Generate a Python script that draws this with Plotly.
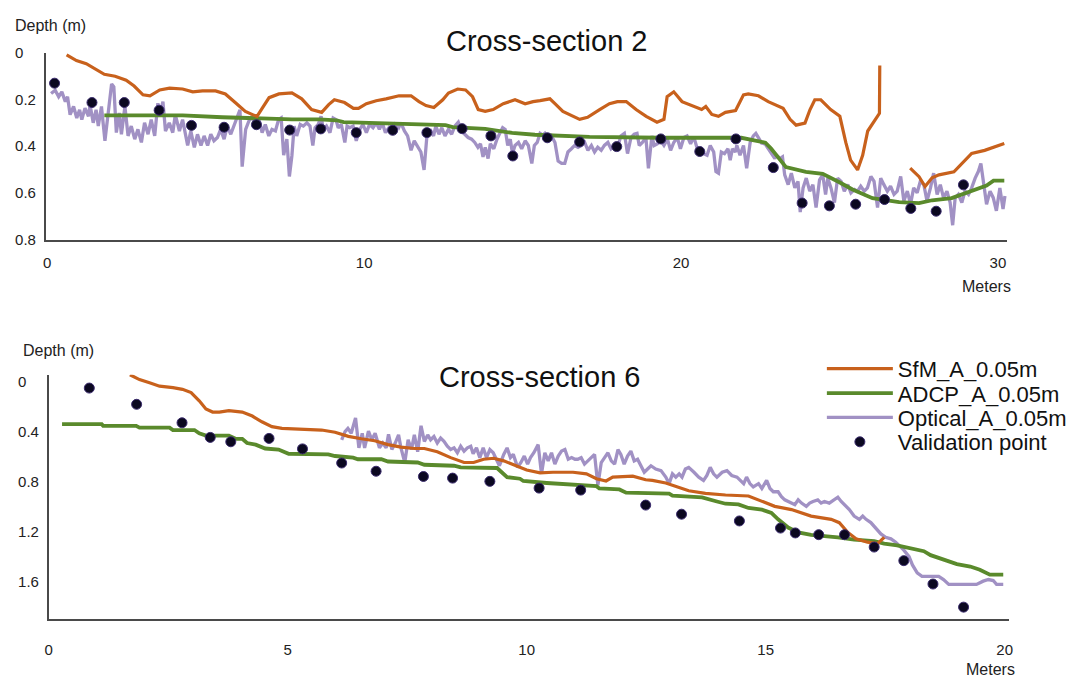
import plotly.graph_objects as go

# ---------------- Cross-section 2 (top) ----------------
cs2_sfm_x = [0.61, 0.92, 1.23, 1.55, 1.80, 2.14, 2.49, 2.74, 3.02, 3.24, 3.55, 3.86, 4.27, 4.59, 4.90,
             5.31, 5.62, 5.93, 6.25, 6.53, 6.62, 6.78, 7.00, 7.31, 7.72, 8.03, 8.34, 8.66, 8.88, 9.06,
             9.38, 9.66, 9.82, 10.07, 10.38, 10.69, 11.10, 11.48, 11.73, 11.95, 12.20, 12.48, 12.66,
             12.95, 13.20, 13.42, 13.60, 13.82, 14.07, 14.39, 14.76, 15.08, 15.33, 15.55, 15.86, 16.02,
             16.27, 16.80, 17.05, 17.43, 17.74, 17.99, 18.27, 18.58, 18.90, 19.24, 19.46, 19.56, 19.77,
             20.03, 20.34, 20.65, 20.78, 20.97, 21.18, 21.40, 21.72, 21.97, 22.12, 22.44, 22.75, 23.06,
             23.22, 23.44, 23.63, 23.91, 24.07, 24.22, 24.41, 24.72, 25.01, 25.20, 25.35, 25.57, 25.73,
             25.89, 26.10, 26.26, 26.27,
             None,
             27.23, 27.51, 27.70, 27.92, 28.14, 28.61, 29.17, 29.58, 30.20]
cs2_sfm_y = [0.008, 0.033, 0.046, 0.071, 0.092, 0.100, 0.117, 0.142, 0.180, 0.184, 0.159, 0.151, 0.155,
             0.167, 0.163, 0.163, 0.176, 0.213, 0.251, 0.268, 0.272, 0.238, 0.192, 0.176, 0.172, 0.197,
             0.243, 0.255, 0.222, 0.201, 0.213, 0.238, 0.238, 0.218, 0.205, 0.197, 0.184, 0.184, 0.209,
             0.226, 0.234, 0.201, 0.172, 0.155, 0.159, 0.188, 0.243, 0.251, 0.243, 0.218, 0.201, 0.218,
             0.209, 0.205, 0.197, 0.218, 0.251, 0.285, 0.276, 0.243, 0.218, 0.209, 0.209, 0.243, 0.272,
             0.297, 0.285, 0.188, 0.167, 0.209, 0.226, 0.243, 0.230, 0.264, 0.272, 0.255, 0.247, 0.180,
             0.176, 0.184, 0.209, 0.230, 0.238, 0.285, 0.310, 0.301, 0.243, 0.201, 0.201, 0.243, 0.272,
             0.385, 0.460, 0.502, 0.439, 0.335, 0.293, 0.259, 0.054,
             None,
             0.494, 0.531, 0.573, 0.536, 0.523, 0.510, 0.431, 0.418, 0.389]

cs2_adcp_x = [1.80, 4.27, 5.52, 6.37, 7.72, 8.59, 9.13, 9.35, 10.47, 11.54, 12.57, 12.79, 13.82, 14.67,
              15.39, 17.11, 18.68, 19.40, 21.90, 22.22, 22.66, 22.84, 23.06, 23.31, 23.94, 24.47, 25.01,
              25.41, 26.04, 26.88, 27.51, 27.92, 28.54, 29.17, 29.64, 29.86, 30.20]
cs2_adcp_y = [0.268, 0.268, 0.276, 0.280, 0.285, 0.285, 0.289, 0.297, 0.301, 0.305, 0.310, 0.318, 0.326,
              0.343, 0.351, 0.360, 0.364, 0.364, 0.364, 0.372, 0.385, 0.410, 0.448, 0.490, 0.510, 0.519,
              0.556, 0.586, 0.623, 0.640, 0.644, 0.632, 0.623, 0.594, 0.569, 0.548, 0.548]

cs2_opt_x = [0.12, 0.25, 0.36, 0.46, 0.57, 0.64, 0.72, 0.83, 0.93, 1.02, 1.09, 1.19, 1.30, 1.35, 1.45,
             1.54, 1.61, 1.71, 1.82, 1.92, 2.03, 2.10, 2.18, 2.27, 2.34, 2.45, 2.55, 2.65, 2.76, 2.86,
             2.97, 3.07, 3.18, 3.28, 3.39, 3.49, 3.56, 3.65, 3.73, 3.85, 3.96, 4.04, 4.17, 4.27, 4.43,
             4.53, 4.64, 4.74, 4.85, 4.95, 5.06, 5.16, 5.26, 5.37, 5.47, 5.58, 5.68, 5.79, 5.89, 5.99,
             6.08, 6.15, 6.26, 6.36, 6.46, 6.57, 6.67, 6.78, 6.88, 6.99, 7.09, 7.20, 7.30, 7.38, 7.46,
             7.56, 7.64, 7.72, 7.79, 7.87, 7.98, 8.08, 8.19, 8.29, 8.38, 8.45, 8.55, 8.64, 8.71, 8.81,
             8.92, 9.02, 9.11, 9.18, 9.28, 9.39, 9.46, 9.54, 9.65, 9.75, 9.86, 9.96, 10.07, 10.17, 10.28,
             10.38, 10.48, 10.57, 10.67, 10.78, 10.88, 10.98, 11.09, 11.16, 11.27, 11.37, 11.48, 11.58,
             11.68, 11.79, 11.89, 11.98, 12.08, 12.19, 12.26, 12.36, 12.45, 12.55, 12.66, 12.76, 12.86,
             12.97, 13.07, 13.18, 13.28, 13.39, 13.49, 13.59, 13.67, 13.75, 13.82, 13.91, 13.98, 14.09,
             14.19, 14.29, 14.37, 14.45, 14.53, 14.61, 14.68, 14.76, 14.87, 14.97, 15.08, 15.18, 15.29,
             15.37, 15.46, 15.55, 15.63, 15.70, 15.81, 15.91, 16.02, 16.12, 16.23, 16.33, 16.43, 16.54,
             16.64, 16.75, 16.85, 16.96, 17.06, 17.17, 17.27, 17.37, 17.48, 17.58, 17.69, 17.79, 17.90,
             18.00, 18.10, 18.21, 18.31, 18.42, 18.52, 18.61, 18.68, 18.78, 18.89, 18.97, 19.08, 19.15,
             19.25, 19.36, 19.46, 19.57, 19.67, 19.77, 19.88, 19.98, 20.09, 20.19, 20.30, 20.40, 20.51,
             20.61, 20.71, 20.82, 20.92, 21.03, 21.10, 21.18, 21.27, 21.37, 21.48, 21.55, 21.62, 21.71,
             21.76, 21.86, 21.97, 22.07, 22.18, 22.28, 22.36, 22.44, 22.54, 22.65, 22.75, 22.85, 22.96,
             23.01, 23.12, 23.20, 23.27, 23.38, 23.48, 23.59, 23.69, 23.76, 23.85, 23.95, 24.06, 24.16,
             24.26, 24.37, 24.47, 24.56, 24.63, 24.73, 24.84, 24.94, 25.05, 25.15, 25.26, 25.36, 25.47,
             25.57, 25.67, 25.78, 25.88, 25.99, 26.09, 26.20, 26.30, 26.40, 26.51, 26.61, 26.72, 26.82,
             26.93, 27.03, 27.14, 27.24, 27.34, 27.45, 27.55, 27.66, 27.76, 27.87, 27.97, 28.08, 28.18,
             28.28, 28.39, 28.49, 28.57, 28.65, 28.75, 28.86, 28.96, 29.07, 29.17, 29.28, 29.38, 29.46,
             29.55, 29.64, 29.75, 29.85, 29.95, 30.06, 30.16, 30.22]
cs2_opt_y = [0.174, 0.160, 0.188, 0.167, 0.209, 0.188, 0.265, 0.230, 0.279, 0.244, 0.286, 0.237, 0.272,
             0.223, 0.300, 0.244, 0.314, 0.230, 0.377, 0.258, 0.133, 0.146, 0.342, 0.258, 0.349, 0.230,
             0.356, 0.314, 0.370, 0.328, 0.384, 0.300, 0.349, 0.286, 0.356, 0.216, 0.258, 0.209, 0.335,
             0.300, 0.342, 0.265, 0.335, 0.286, 0.397, 0.335, 0.405, 0.349, 0.397, 0.356, 0.397, 0.349,
             0.377, 0.363, 0.328, 0.370, 0.314, 0.349, 0.314, 0.279, 0.244, 0.488, 0.328, 0.293, 0.272,
             0.314, 0.279, 0.342, 0.307, 0.356, 0.328, 0.335, 0.286, 0.279, 0.439, 0.370, 0.530, 0.440,
             0.314, 0.356, 0.307, 0.314, 0.300, 0.314, 0.397, 0.321, 0.307, 0.272, 0.328, 0.314, 0.342,
             0.279, 0.286, 0.321, 0.307, 0.384, 0.314, 0.321, 0.314, 0.377, 0.328, 0.307, 0.342, 0.307,
             0.321, 0.300, 0.328, 0.300, 0.342, 0.321, 0.349, 0.307, 0.321, 0.300, 0.335, 0.356, 0.418,
             0.377, 0.397, 0.425, 0.502, 0.356, 0.328, 0.356, 0.314, 0.349, 0.321, 0.356, 0.328, 0.349,
             0.314, 0.297, 0.335, 0.349, 0.363, 0.370, 0.384, 0.405, 0.390, 0.446, 0.405, 0.453, 0.390,
             0.411, 0.370, 0.342, 0.321, 0.328, 0.397, 0.370, 0.432, 0.397, 0.384, 0.411, 0.377, 0.397,
             0.474, 0.397, 0.384, 0.345, 0.353, 0.345, 0.370, 0.356, 0.384, 0.464, 0.474, 0.474, 0.425,
             0.411, 0.397, 0.405, 0.397, 0.384, 0.418, 0.397, 0.425, 0.405, 0.418, 0.397, 0.384, 0.411,
             0.397, 0.405, 0.356, 0.345, 0.432, 0.363, 0.349, 0.345, 0.397, 0.384, 0.363, 0.495, 0.356,
             0.397, 0.390, 0.377, 0.397, 0.370, 0.418, 0.384, 0.363, 0.411, 0.363, 0.356, 0.390, 0.359,
             0.411, 0.418, 0.432, 0.439, 0.397, 0.425, 0.509, 0.516, 0.425, 0.432, 0.411, 0.460, 0.411,
             0.425, 0.397, 0.439, 0.397, 0.495, 0.384, 0.356, 0.345, 0.363, 0.387, 0.390, 0.411, 0.432,
             0.453, 0.439, 0.453, 0.446, 0.523, 0.565, 0.516, 0.579, 0.551, 0.683, 0.579, 0.537, 0.593,
             0.565, 0.663, 0.544, 0.523, 0.607, 0.537, 0.579, 0.642, 0.537, 0.551, 0.593, 0.565, 0.600,
             0.586, 0.593, 0.572, 0.593, 0.579, 0.530, 0.551, 0.663, 0.537, 0.565, 0.593, 0.572, 0.607,
             0.593, 0.530, 0.635, 0.593, 0.649, 0.579, 0.600, 0.551, 0.565, 0.635, 0.579, 0.516, 0.607,
             0.565, 0.621, 0.593, 0.642, 0.739, 0.621, 0.607, 0.642, 0.593, 0.607, 0.579, 0.537, 0.509,
             0.474, 0.565, 0.649, 0.593, 0.621, 0.677, 0.579, 0.670, 0.614]

cs2_val_x = [0.23, 1.41, 2.43, 3.53, 4.55, 5.58, 6.60, 7.65, 8.63, 9.75, 10.90, 11.98, 13.09, 14.00,
             14.69, 15.78, 16.80, 17.97, 19.36, 20.59, 21.73, 22.91, 23.82, 24.68, 25.51, 26.42, 27.25,
             28.05, 28.91]
cs2_val_y = [0.130, 0.213, 0.213, 0.246, 0.311, 0.319, 0.308, 0.331, 0.326, 0.342, 0.332, 0.342, 0.325,
             0.356, 0.442, 0.364, 0.382, 0.402, 0.369, 0.423, 0.369, 0.492, 0.644, 0.656, 0.649, 0.629,
             0.667, 0.679, 0.566]

# ---------------- Cross-section 6 (bottom) ----------------
cs6_sfm_x = [1.70, 1.90, 2.11, 2.32, 2.60, 2.80, 2.98, 3.15, 3.29, 3.43, 3.57, 3.77, 4.05, 4.26, 4.46,
             4.67, 4.88, 5.16, 5.43, 5.71, 5.99, 6.27, 6.54, 6.82, 7.10, 7.37, 7.65, 7.86, 8.13, 8.41,
             8.69, 8.89, 9.10, 9.31, 9.52, 9.72, 10.00, 10.28, 10.55, 10.97, 11.25, 11.46, 11.66, 11.80,
             12.22, 12.49, 12.63, 12.91, 13.12, 13.39, 13.74, 14.16, 14.64, 14.92, 15.19, 15.54, 15.95,
             16.37, 16.54, 16.72, 16.89, 17.13, 17.34, 17.48]
cs6_sfm_y = [-0.055, -0.016, 0.010, 0.037, 0.049, 0.062, 0.088, 0.154, 0.219, 0.244, 0.244, 0.232, 0.244,
             0.276, 0.322, 0.361, 0.375, 0.380, 0.383, 0.388, 0.406, 0.439, 0.458, 0.474, 0.505, 0.525,
             0.536, 0.536, 0.562, 0.609, 0.648, 0.648, 0.622, 0.614, 0.635, 0.666, 0.708, 0.731, 0.726,
             0.726, 0.739, 0.778, 0.796, 0.765, 0.757, 0.786, 0.791, 0.812, 0.838, 0.874, 0.895, 0.908,
             0.916, 0.960, 0.999, 1.025, 1.077, 1.103, 1.130, 1.208, 1.259, 1.286, 1.298, 1.247]

cs6_adcp_x = [0.28, 1.11, 1.14, 1.83, 1.90, 2.53, 2.60, 3.05, 3.15, 3.29, 3.77, 3.91, 4.05, 4.15, 4.33,
              4.53, 4.81, 5.02, 5.85, 5.99, 6.37, 6.47, 6.96, 7.10, 7.72, 7.86, 8.48, 8.62, 9.38, 9.59,
              9.86, 9.93, 10.42, 10.76, 11.46, 11.52, 11.94, 12.08, 12.56, 12.98, 13.05, 13.67, 13.98,
              14.16, 14.43, 14.64, 14.92, 15.12, 15.26, 15.47, 15.68, 15.95, 16.51, 16.85, 17.27, 17.48,
              17.75, 18.03, 18.31, 18.45, 18.72, 19.00, 19.28, 19.48, 19.69, 19.97]
cs6_adcp_y = [0.341, 0.341, 0.354, 0.354, 0.369, 0.369, 0.388, 0.388, 0.414, 0.432, 0.432, 0.458, 0.458,
              0.492, 0.505, 0.536, 0.544, 0.578, 0.583, 0.596, 0.609, 0.622, 0.622, 0.640, 0.648, 0.666,
              0.674, 0.687, 0.692, 0.765, 0.778, 0.796, 0.812, 0.822, 0.838, 0.856, 0.864, 0.890, 0.897,
              0.897, 0.913, 0.927, 0.960, 0.978, 0.984, 1.012, 1.025, 1.052, 1.103, 1.169, 1.208, 1.228,
              1.247, 1.265, 1.278, 1.298, 1.311, 1.337, 1.358, 1.390, 1.429, 1.462, 1.481, 1.507, 1.546,
              1.546]

cs6_opt_x = [6.13, 6.20, 6.26, 6.33, 6.42, 6.49, 6.56, 6.61, 6.69, 6.76, 6.83, 6.92, 6.99, 7.06, 7.11,
             7.18, 7.25, 7.32, 7.37, 7.45, 7.52, 7.59, 7.65, 7.72, 7.79, 7.86, 7.93, 7.99, 8.06, 8.13,
             8.20, 8.27, 8.34, 8.41, 8.48, 8.55, 8.62, 8.69, 8.76, 8.83, 8.88, 8.95, 9.02, 9.09, 9.16,
             9.23, 9.30, 9.37, 9.43, 9.52, 9.59, 9.66, 9.72, 9.81, 9.88, 9.95, 10.02, 10.08, 10.15,
             10.24, 10.31, 10.38, 10.45, 10.52, 10.59, 10.66, 10.73, 10.80, 10.87, 10.94, 11.01, 11.07,
             11.14, 11.21, 11.28, 11.35, 11.42, 11.49, 11.56, 11.63, 11.70, 11.77, 11.84, 11.91, 11.97,
             12.04, 12.11, 12.18, 12.25, 12.32, 12.39, 12.46, 12.53, 12.60, 12.70, 12.81, 12.91, 12.98,
             13.05, 13.12, 13.19, 13.25, 13.32, 13.39, 13.50, 13.60, 13.70, 13.77, 13.84, 13.91, 13.98,
             14.09, 14.19, 14.29, 14.40, 14.47, 14.54, 14.60, 14.67, 14.74, 14.85, 14.92, 14.99, 15.02,
             15.09, 15.16, 15.26, 15.33, 15.40, 15.47, 15.54, 15.61, 15.68, 15.75, 15.85, 15.92, 15.99,
             16.09, 16.16, 16.23, 16.33, 16.44, 16.51, 16.58, 16.65, 16.75, 16.85, 16.96, 17.03, 17.10,
             17.20, 17.30, 17.41, 17.51, 17.62, 17.72, 17.79, 17.89, 18.00, 18.07, 18.17, 18.27, 18.38,
             18.52, 18.62, 18.72, 18.83, 18.93, 19.14, 19.41, 19.55, 19.66, 19.76, 19.83, 19.97]
cs6_opt_y = [0.466, 0.401, 0.375, 0.414, 0.291, 0.531, 0.414, 0.531, 0.396, 0.466, 0.414, 0.531, 0.492,
             0.531, 0.422, 0.544, 0.492, 0.427, 0.531, 0.648, 0.466, 0.544, 0.427, 0.562, 0.354, 0.479,
             0.427, 0.466, 0.440, 0.492, 0.453, 0.479, 0.518, 0.544, 0.531, 0.570, 0.518, 0.557, 0.531,
             0.518, 0.578, 0.531, 0.609, 0.531, 0.609, 0.544, 0.570, 0.630, 0.674, 0.583, 0.531, 0.609,
             0.583, 0.687, 0.648, 0.596, 0.661, 0.609, 0.570, 0.505, 0.739, 0.570, 0.635, 0.570, 0.661,
             0.596, 0.557, 0.544, 0.622, 0.609, 0.622, 0.622, 0.609, 0.661, 0.635, 0.609, 0.583, 0.830,
             0.648, 0.609, 0.570, 0.635, 0.661, 0.544, 0.583, 0.661, 0.596, 0.557, 0.635, 0.622, 0.674,
             0.726, 0.700, 0.674, 0.700, 0.713, 0.765, 0.817, 0.739, 0.765, 0.739, 0.765, 0.700, 0.687,
             0.726, 0.765, 0.791, 0.752, 0.687, 0.739, 0.765, 0.726, 0.713, 0.752, 0.765, 0.791, 0.817,
             0.765, 0.817, 0.843, 0.817, 0.856, 0.817, 0.791, 0.856, 0.882, 0.882, 0.921, 0.947, 0.960,
             0.973, 0.986, 0.947, 0.973, 0.999, 0.973, 0.960, 0.947, 0.973, 0.960, 0.973, 0.942, 0.926,
             0.960, 0.986, 1.025, 1.077, 1.103, 1.077, 1.103, 1.129, 1.168, 1.220, 1.247, 1.259, 1.286,
             1.311, 1.350, 1.402, 1.468, 1.532, 1.559, 1.559, 1.559, 1.559, 1.585, 1.624, 1.624, 1.624,
             1.624, 1.598, 1.585, 1.593, 1.624, 1.624]

cs6_val_x = [0.85, 1.84, 2.79, 3.38, 3.81, 4.61, 5.31, 6.13, 6.85, 7.84, 8.45, 9.23, 10.26, 11.13, 12.49,
             13.24, 14.45, 15.31, 15.62, 16.11, 16.65, 17.27, 17.89, 18.50, 19.14]
cs6_val_y = [0.052, 0.182, 0.330, 0.447, 0.482, 0.455, 0.539, 0.652, 0.718, 0.760, 0.773, 0.799, 0.853,
             0.869, 0.989, 1.062, 1.116, 1.173, 1.212, 1.226, 1.226, 1.325, 1.434, 1.621, 1.806]

cs2_xticks = [0, 10, 20, 30]
cs2_yticks = [0, 0.2, 0.4, 0.6, 0.8]
cs6_xticks = [0, 5, 10, 15, 20]
cs6_yticks = [0, 0.4, 0.8, 1.2, 1.6]

series_names = ["SfM_A_0.05m", "ADCP_A_0.05m", "Optical_A_0.05m", "Validation point"]

C_SFM = "#C8611C"
C_ADCP = "#5A8A2C"
C_OPT = "#A191C4"
C_VAL = "#0B0820"
FONT = "Liberation Sans, Arial, sans-serif"
W, H = 1075, 686

fig = go.Figure()

# one legend per entry so the rows can be spaced like the original
LEG = ["legend", "legend2", "legend3", "legend4"]


def add_section(sfm, adcp, opt, val, xa, ya, legend):
    fig.add_trace(go.Scatter(x=opt[0], y=opt[1], mode="lines", name=series_names[2],
                             line=dict(color=C_OPT, width=3.3), xaxis=xa, yaxis=ya,
                             showlegend=legend, legend=LEG[2]))
    fig.add_trace(go.Scatter(x=adcp[0], y=adcp[1], mode="lines", name=series_names[1],
                             line=dict(color=C_ADCP, width=3.8), xaxis=xa, yaxis=ya,
                             showlegend=legend, legend=LEG[1]))
    fig.add_trace(go.Scatter(x=sfm[0], y=sfm[1], mode="lines", name=series_names[0],
                             line=dict(color=C_SFM, width=3.2), xaxis=xa, yaxis=ya,
                             connectgaps=False, showlegend=legend, legend=LEG[0]))
    fig.add_trace(go.Scatter(x=val[0], y=val[1], mode="markers", name=series_names[3],
                             marker=dict(color=C_VAL, size=10, line=dict(color="#3B2C6E", width=1)),
                             xaxis=xa, yaxis=ya, showlegend=legend, legend=LEG[3]))


add_section((cs2_sfm_x, cs2_sfm_y), (cs2_adcp_x, cs2_adcp_y), (cs2_opt_x, cs2_opt_y),
            (cs2_val_x, cs2_val_y), "x", "y", False)
add_section((cs6_sfm_x, cs6_sfm_y), (cs6_adcp_x, cs6_adcp_y), (cs6_opt_x, cs6_opt_y),
            (cs6_val_x, cs6_val_y), "x2", "y2", True)


def ylab(v):
    s = f"{v:g}"
    return s + "\u00a0\u00a0\u00a0" if s == "0" else s


axis_common = dict(showline=True, linecolor="#4a4a4a", linewidth=1.5, showgrid=False,
                   zeroline=False, ticks="outside", tickcolor="rgba(0,0,0,0)",
                   tickfont=dict(family=FONT, size=15, color="#222222"))

legend_rows = [369, 394, 419, 444]
legend_layout = {}
for name, row in zip(LEG, legend_rows):
    legend_layout[name] = dict(x=824 / W, y=(H - row) / H, xanchor="left", yanchor="middle",
                               font=dict(family=FONT, size=22, color="#111111"),
                               bgcolor="rgba(0,0,0,0)", itemwidth=66)

fig.update_layout(
    width=W, height=H,
    margin=dict(l=0, r=0, t=0, b=0),
    paper_bgcolor="white", plot_bgcolor="white",
    font=dict(family=FONT, color="#111111"),
    xaxis=dict(domain=[42 / W, 1011 / W], range=[-0.05, 30.30], tickvals=cs2_xticks,
               anchor="y", ticklen=8, **axis_common),
    yaxis=dict(domain=[(H - 237) / H, (H - 45) / H], range=[0.803, 0], tickvals=cs2_yticks,
               ticktext=[ylab(v) for v in cs2_yticks], anchor="x", ticklen=5, **axis_common),
    xaxis2=dict(domain=[45 / W, 1013 / W], range=[0, 20.1], tickvals=cs6_xticks,
                anchor="y2", ticklen=16, **axis_common),
    yaxis2=dict(domain=[(H - 626) / H, (H - 375) / H], range=[1.905, -0.055], tickvals=cs6_yticks,
                ticktext=[ylab(v) for v in cs6_yticks], anchor="x2", ticklen=5, **axis_common),
    annotations=[
        dict(text="Cross-section 2", x=547 / W, y=(H - 33) / H, xref="paper", yref="paper",
             showarrow=False, xanchor="center", yanchor="middle",
             font=dict(family=FONT, size=29, color="#111111")),
        dict(text="Cross-section 6", x=540 / W, y=(H - 377) / H, xref="paper", yref="paper",
             showarrow=False, xanchor="center", yanchor="middle",
             font=dict(family=FONT, size=29, color="#111111")),
        dict(text="Depth (m)", x=9 / W, y=(H - 17) / H, xref="paper", yref="paper",
             showarrow=False, xanchor="left", yanchor="middle",
             font=dict(family=FONT, size=16, color="#222222")),
        dict(text="Depth (m)", x=17 / W, y=(H - 350) / H, xref="paper", yref="paper",
             showarrow=False, xanchor="left", yanchor="middle",
             font=dict(family=FONT, size=16, color="#222222")),
        dict(text="Meters", x=1017 / W, y=(H - 285) / H, xref="paper", yref="paper",
             showarrow=False, xanchor="right", yanchor="middle",
             font=dict(family=FONT, size=16, color="#222222")),
        dict(text="Meters", x=1021 / W, y=(H - 677) / H, xref="paper", yref="paper",
             showarrow=False, xanchor="right", yanchor="middle",
             font=dict(family=FONT, size=16, color="#222222")),
    ],
    **legend_layout,
)

fig.write_html("out.html")
